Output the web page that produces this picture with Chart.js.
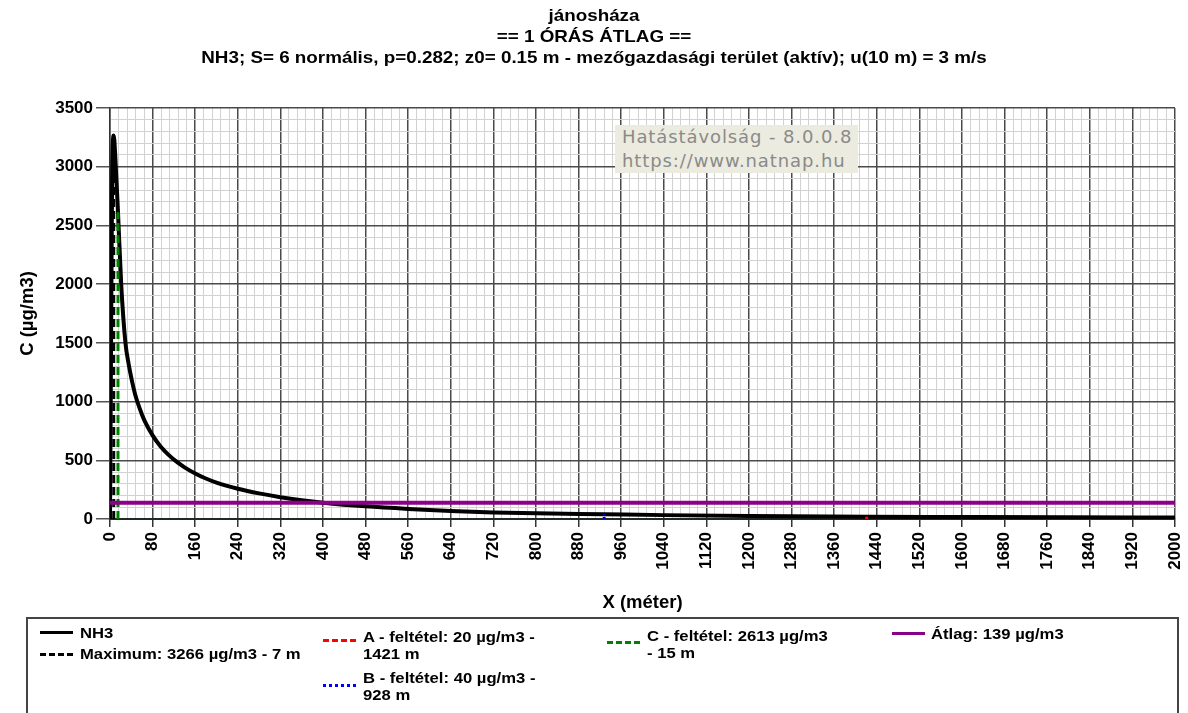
<!DOCTYPE html>
<html>
<head>
<meta charset="utf-8">
<script src="https://cdn.jsdelivr.net/npm/chart.js@4.4.0/dist/chart.umd.min.js"></script>
<style>
  html, body { margin: 0; padding: 0; background: #fff; }
  #wrap { position: relative; width: 1188px; height: 713px; overflow: hidden; font-family: "Liberation Sans", Arial, sans-serif; }
  #c { position: absolute; left: 0; top: 0; }
  #title { position: absolute; left: 0; width: 1188px; top: 5px; text-align: center; font-weight: bold; font-size: 17px; line-height: 21px; color: #000; transform: scaleX(1.107); transform-origin: 594px 0; }
  #wm { position: absolute; left: 615px; top: 125px; width: 243px; height: 48px; background: #ecebdf; color: #8a8a8a; font-family: "DejaVu Sans", sans-serif; font-size: 18px; letter-spacing: 0.9px; line-height: 24px; padding-left: 7px; box-sizing: border-box; white-space: nowrap; }
  #legendBox { position: absolute; left: 26px; top: 617px; width: 1153px; height: 120px; border: 2px solid #444; box-sizing: border-box; }
  .li { position: absolute; font-weight: bold; font-size: 15px; line-height: 17px; color: #000; white-space: nowrap; transform: scaleX(1.11); transform-origin: 0 0; }
  .sw { position: absolute; width: 33px; height: 0; }
</style>
</head>
<body>
<div id="wrap">
  <canvas id="c" width="1188" height="713"></canvas>
  <div id="title"></div>
  <div id="wm"></div>
  <div id="legendBox"></div>
</div>
<script>
// ---- titles ----
const titleLines = [
  "jánosháza",
  "== 1 ÓRÁS ÁTLAG ==",
  "NH3; S= 6 normális, p=0.282; z0= 0.15 m - mezőgazdasági terület (aktív); u(10 m) = 3 m/s"
];
const watermarkLines = ["Hatástávolság - 8.0.0.8", "https://www.natnap.hu"];
const xAxisTitle = "X (méter)";
const yAxisTitle = "C (µg/m3)";

// ---- data ----
const distances = [0, 2, 4, 7, 10, 15, 21, 29, 35, 41, 47, 55, 65, 80, 95, 110, 125, 140, 160, 180, 200, 240, 280, 320, 360, 400, 480, 560, 640, 720, 800, 880, 928, 1040, 1200, 1421, 1600, 1800, 2000];
const nh3Values = [0, 1500, 2900, 3266, 3080, 2613, 2000, 1500, 1320, 1180, 1065, 950, 835, 712, 618, 546, 488, 440, 388, 345, 310, 258, 218, 186, 160, 139, 108, 86, 69, 56, 48, 43, 40, 33, 26, 20, 17, 14, 12];
const maxPoint = [7, 3266];      // [m, µg/m3]
const condA = [1421, 20];
const condB = [928, 40];
const condC = [15, 2613];
const avgValue = 139;
const xRange = [0, 2000];
const yRange = [0, 3500];
const xMajorStep = 80, xMinorStep = 16;
const yMajorStep = 500, yMinorStep = 100;

const seriesName = "NH3";
const labelMax = `Maximum: ${maxPoint[1]} µg/m3 - ${maxPoint[0]} m`;
const labelA = [`A - feltétel: ${condA[1]} µg/m3 -`, `${condA[0]} m`];
const labelB = [`B - feltétel: ${condB[1]} µg/m3 -`, `${condB[0]} m`];
const labelC = [`C - feltétel: ${condC[1]} µg/m3`, `- ${condC[0]} m`];
const labelAvg = `Átlag: ${avgValue} µg/m3`;

// ---- DOM texts ----
document.getElementById('title').innerHTML = titleLines.map(t => `<div>${t}</div>`).join('');
document.getElementById('wm').innerHTML = watermarkLines.map(t => `<div>${t}</div>`).join('');

const wrap = document.getElementById('wrap');
function addLegend(sampleCss, sx, sy, lines, tx, ty) {
  const s = document.createElement('div');
  s.className = 'sw';
  s.style.cssText = `left:${sx}px;top:${sy}px;${sampleCss}`;
  wrap.appendChild(s);
  const t = document.createElement('div');
  t.className = 'li';
  t.style.left = tx + 'px';
  t.style.top = ty + 'px';
  t.innerHTML = lines.map(l => `<div>${l}</div>`).join('');
  wrap.appendChild(t);
}
addLegend('border-top:3px solid #000;', 40, 631, [seriesName], 80, 624);
addLegend('border-top:3px dashed #000;', 40, 653, [labelMax], 80, 645);
addLegend('border-top:3px dashed #ff0000;', 323, 639, labelA, 363, 628);
addLegend('border-top:3px dotted #0000ff;', 323, 684, labelB, 363, 669);
addLegend('border-top:3px dashed #008000;', 607, 641, labelC, 647, 627);
addLegend('border-top:3px solid #8b008b;', 892, 632, [labelAvg], 931, 625);

// ---- chart ----
const pts = (xs, ys) => xs.map((x, i) => ({x: x, y: ys[i]}));
const tickFont = { family: '"Liberation Sans", Arial, sans-serif', size: 17, weight: 'bold' };
const titleFont = { family: '"Liberation Sans", Arial, sans-serif', size: 18.5, weight: 'bold' };

new Chart(document.getElementById('c'), {
  type: 'line',
  data: {
    datasets: [
      { label: labelAvg, data: pts(xRange, [avgValue, avgValue]), borderColor: '#8b008b', borderWidth: 4, pointRadius: 0, order: 0 },
      { label: labelC.join(' '), data: pts([condC[0], condC[0]], [0, condC[1]]), borderColor: '#008000', borderWidth: 3, borderDash: [8, 4], pointRadius: 0, order: 1 },
      { label: labelMax, data: pts([maxPoint[0], maxPoint[0]], [0, maxPoint[1]]), borderColor: '#000', borderWidth: 3, borderDash: [8, 4], pointRadius: 0, order: 2 },
      { label: labelA.join(' '), data: pts([condA[0], condA[0]], [0, condA[1]]), borderColor: '#ff0000', borderWidth: 3, borderDash: [6, 3], pointRadius: 0, order: 3 },
      { label: labelB.join(' '), data: pts([condB[0], condB[0]], [0, condB[1]]), borderColor: '#0000ff', borderWidth: 3, borderDash: [2, 2], pointRadius: 0, order: 3 },
      { label: seriesName, data: pts(distances, nh3Values), borderColor: '#000', borderWidth: 4, pointRadius: 0, cubicInterpolationMode: 'monotone', order: 5 }
    ]
  },
  options: {
    responsive: false,
    animation: false,
    layout: { padding: { top: 108, right: 13, bottom: 98, left: 0 } },
    plugins: { legend: { display: false }, title: { display: false }, tooltip: { enabled: false } },
    scales: {
      x: {
        type: 'linear', min: xRange[0], max: xRange[1],
        afterFit: s => { s.height = 96; s.paddingLeft = 0; s.paddingRight = 0; },
        ticks: {
          stepSize: xMinorStep, autoSkip: false, maxRotation: 90, minRotation: 90, padding: 5,
          color: '#000', font: tickFont,
          callback: v => (v % xMajorStep === 0 ? String(v) : '')
        },
        grid: {
          color: c => (c.tick && c.tick.value % xMajorStep === 0 ? '#4a4a4a' : '#d2d2d2'),
          lineWidth: c => (c.tick && c.tick.value % xMajorStep === 0 ? 1.5 : 1),
          tickColor: c => (c.tick && c.tick.value % xMajorStep === 0 ? '#333' : 'rgba(0,0,0,0)'),
          tickLength: 8
        },
        border: { color: '#1e2b22', width: 2 },
        title: { display: true, text: xAxisTitle, color: '#000', font: titleFont, padding: { top: 0, bottom: 1 } }
      },
      y: {
        type: 'linear', min: yRange[0], max: yRange[1],
        afterFit: s => { s.width = 110; s.paddingTop = 0; s.paddingBottom = 0; },
        ticks: {
          stepSize: yMinorStep, autoSkip: false, padding: 3,
          color: '#000', font: tickFont,
          callback: v => (v % yMajorStep === 0 ? String(v) : '')
        },
        grid: {
          color: c => (c.tick && c.tick.value % yMajorStep === 0 ? '#4a4a4a' : '#d2d2d2'),
          lineWidth: c => (c.tick && c.tick.value % yMajorStep === 0 ? 1.5 : 1),
          tickColor: c => (c.tick && c.tick.value % yMajorStep === 0 ? '#555' : 'rgba(0,0,0,0)'),
          tickLength: 14
        },
        border: { color: '#333', width: 1.5 },
        title: { display: true, text: yAxisTitle, color: '#000', font: titleFont, padding: { top: 17, bottom: 0 } }
      }
    }
  }
});
</script>
</body>
</html>
